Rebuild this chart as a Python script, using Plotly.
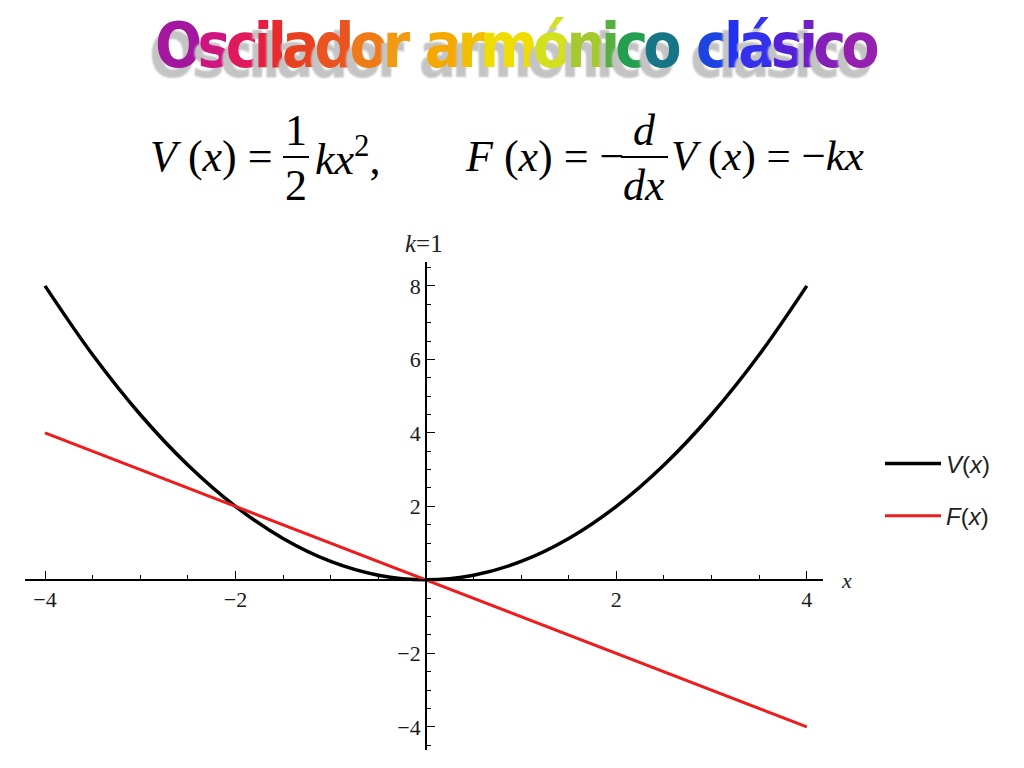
import plotly.graph_objects as go

# ---- data (k = 1) ----
x_vals = [-4, -3.5, -3, -2.5, -2, -1.5, -1, -0.5, 0, 0.5, 1, 1.5, 2, 2.5, 3, 3.5, 4]
v_vals = [8, 6.125, 4.5, 3.125, 2, 1.125, 0.5, 0.125, 0, 0.125, 0.5, 1.125, 2, 3.125, 4.5, 6.125, 8]
f_x = [-4, 4]
f_vals = [4, -4]
x_ticks = [-4, -2, 2, 4]
y_ticks = [-4, -2, 2, 4, 6, 8]
x_range = [-4.21, 4.17]
y_range = [-4.63, 8.65]

title_text = "Oscilador armónico clásico"
title_colors = ["#a3169e", "#cf1580", "#e0195e", "#e61f40", "#e82a2e", "#e9401f", "#ea5420",
                "#ef7a1a", "#f19a14", None,
                "#f5a800", "#f2bf00", "#efdc00", "#d2e01e", "#a4c92e", "#55b040", "#22a050", "#187585", None,
                "#1c44e0", "#2232f0", "#3330ee", "#5222d8", "#7020c8", "#8420b8", "#9420b0"]

# page body has an 8px margin, so the figure is shifted; compensate
OFF = 8
W, H = 1024 - OFF, 768 - OFF
PL, PR, PT, PB = 25, 823, 262, 750          # plot area in reference pixels
PW, PH = PR - PL, PB - PT
L, T = PL - OFF, PT - OFF
R, B = W - L - PW, H - T - PH


def px(xp):
    return (xp - PL) / PW


def py(yp):
    return (PB - yp) / PH


fig = go.Figure()
fig.add_trace(go.Scatter(x=x_vals, y=v_vals, mode="lines", line=dict(color="black", width=3.5, shape="spline"),
                         name="<i>V</i>(<i>x</i>)", legendgroup="v"))
fig.add_trace(go.Scatter(x=f_x, y=f_vals, mode="lines", line=dict(color="#ee1c1c", width=3),
                         name="<i>F</i>(<i>x</i>)", legendgroup="f"))

tickfont = dict(family="Liberation Serif", size=22, color="#1a1a1a")
fig.update_layout(
    width=W, height=H, autosize=False,
    margin=dict(l=L, r=R, t=T, b=B),
    paper_bgcolor="white", plot_bgcolor="white",
    showlegend=True,
    legend=dict(x=px(880), y=py(490), xanchor="left", yanchor="middle",
                font=dict(family="Liberation Sans", size=24, color="#222"),
                traceorder="grouped", tracegroupgap=18, itemwidth=56, bgcolor="rgba(0,0,0,0)"),
    xaxis=dict(range=x_range, anchor="free",
               position=(0 - y_range[0]) / (y_range[1] - y_range[0]),
               showgrid=False, zeroline=False, showline=True, linecolor="black", linewidth=1.5,
               tickmode="array", tickvals=x_ticks, ticks="inside", ticklen=8, tickwidth=1.2,
               tickcolor="black", tickfont=tickfont,
               minor=dict(tickmode="linear", tick0=0, dtick=0.5, ticks="inside", ticklen=4,
                          tickcolor="black", tickwidth=1)),
    yaxis=dict(range=y_range, anchor="free",
               position=(0 - x_range[0]) / (x_range[1] - x_range[0]),
               showgrid=False, zeroline=False, showline=True, linecolor="black", linewidth=1.5,
               tickmode="array", tickvals=y_ticks, ticks="inside", ticklen=8, tickwidth=1.2,
               tickcolor="black", tickfont=tickfont,
               minor=dict(tickmode="linear", tick0=0, dtick=0.5, ticks="inside", ticklen=4,
                          tickcolor="black", tickwidth=1)),
)


def note(xp, yp, text, font, xanchor="center"):
    return dict(x=px(xp), y=py(yp), xref="paper", yref="paper", text=text, showarrow=False,
                xanchor=xanchor, yanchor="middle", font=font)


ann = []
# axis labels
ann.append(note(846, 580, "<i>x</i>", dict(family="Liberation Serif", size=22, color="#222")))
ann.append(note(424, 243, "<i>k</i>=1", dict(family="Liberation Serif", size=25, color="#222")))

# title with shadow
spans = []
for ch, c in zip(title_text, title_colors):
    spans.append(" " if c is None else f'<span style="color:{c};letter-spacing:-5px">{ch}</span>')
title_html = "".join(spans)
title_font = dict(family="DejaVu Sans Condensed", size=62, weight="bold",
                  shadow="-6px 10px 2px #c4c4c4")
ann.append(note(516, 46, title_html, title_font))

# formulas
ff = dict(family="Liberation Serif", size=44, color="black")
ann.append(note(148, 156, "<i>V</i> (<i>x</i>) =", ff, "left"))
ann.append(note(296, 130, "1", ff))
ann.append(note(296, 186, "2", ff))
ann.append(note(313, 156, "<i>kx</i><sup>2</sup>,", ff, "left"))
ann.append(note(463, 156, "<i>F</i> (<i>x</i>) = −", ff, "left"))
ann.append(note(644, 130, "<i>d</i>", ff))
ann.append(note(644, 186, "<i>dx</i>", ff))
ann.append(note(669, 156, "<i>V</i> (<i>x</i>) = −<i>kx</i>", dict(ff, size=43), "left"))
fig.update_layout(annotations=ann)

fig.add_shape(type="line", xref="paper", yref="paper", x0=px(283), x1=px(309), y0=py(157), y1=py(157),
              line=dict(color="black", width=2))
fig.add_shape(type="line", xref="paper", yref="paper", x0=px(621), x1=px(668), y0=py(157), y1=py(157),
              line=dict(color="black", width=2))

fig.write_html("out.html")
